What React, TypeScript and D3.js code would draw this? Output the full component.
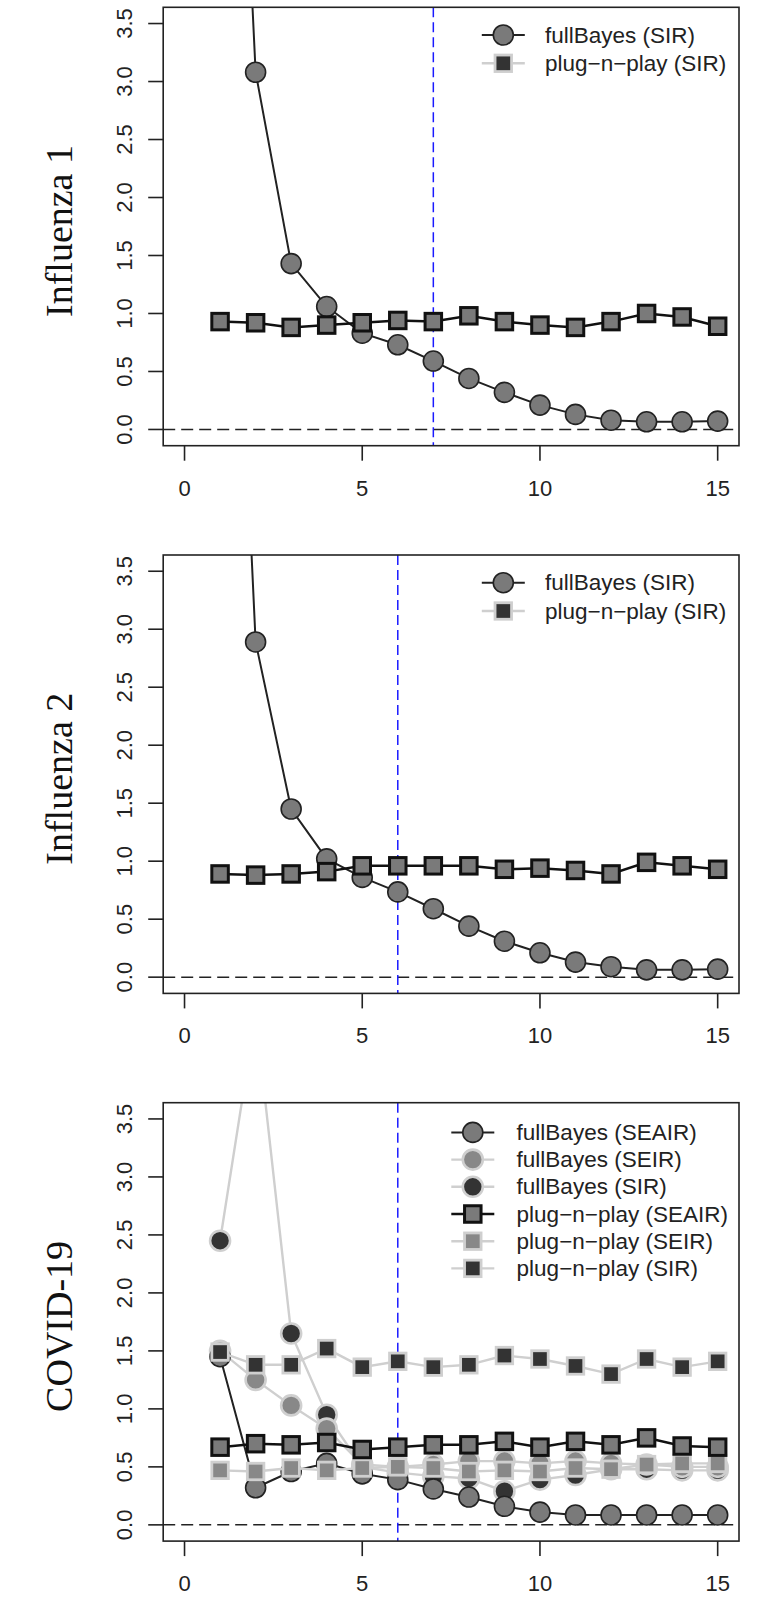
import React from "react";
import * as d3 from "d3";

// ---------- data ----------
const xs = [1, 2, 3, 4, 5, 6, 7, 8, 9, 10, 11, 12, 13, 14, 15];
const xTicks = [0, 5, 10, 15];
const yTicks = [0, 0.5, 1, 1.5, 2, 2.5, 3, 3.5];
const yTickLabels = ["0.0", "0.5", "1.0", "1.5", "2.0", "2.5", "3.0", "3.5"];

const panelTitles = ["Influenza 1", "Influenza 2", "COVID-19"];
const cutoffs = [7, 6, 6];

const flu1FullBayesSIR = [9.5, 3.08, 1.43, 1.06, 0.83, 0.73, 0.59, 0.44, 0.32, 0.21, 0.13, 0.08, 0.066, 0.066, 0.072];
const flu1PlugSIR = [0.93, 0.92, 0.88, 0.9, 0.92, 0.94, 0.93, 0.98, 0.93, 0.9, 0.88, 0.93, 1.0, 0.97, 0.89];

const flu2FullBayesSIR = [9.5, 2.89, 1.45, 1.02, 0.86, 0.735, 0.59, 0.44, 0.31, 0.21, 0.13, 0.09, 0.063, 0.063, 0.069];
const flu2PlugSIR = [0.89, 0.88, 0.89, 0.91, 0.96, 0.96, 0.96, 0.96, 0.93, 0.94, 0.92, 0.89, 0.99, 0.96, 0.93];

const covFullBayesSEAIR = [1.45, 0.32, 0.46, 0.53, 0.44, 0.39, 0.31, 0.24, 0.16, 0.11, 0.085, 0.085, 0.085, 0.085, 0.085];
const covFullBayesSEIR = [1.5, 1.25, 1.03, 0.83, 0.52, 0.5, 0.52, 0.55, 0.55, 0.53, 0.55, 0.53, 0.52, 0.5, 0.5];
const covFullBayesSIR = [2.45, 4.4, 1.65, 0.95, 0.5, 0.45, 0.42, 0.4, 0.29, 0.39, 0.43, 0.48, 0.48, 0.47, 0.47];
const covPlugSEAIR = [0.67, 0.7, 0.69, 0.71, 0.65, 0.67, 0.69, 0.69, 0.72, 0.67, 0.72, 0.69, 0.75, 0.68, 0.67];
const covPlugSEIR = [0.47, 0.46, 0.49, 0.47, 0.49, 0.5, 0.49, 0.46, 0.47, 0.46, 0.49, 0.48, 0.52, 0.53, 0.53];
const covPlugSIR = [1.49, 1.38, 1.38, 1.52, 1.36, 1.41, 1.36, 1.38, 1.46, 1.43, 1.37, 1.3, 1.43, 1.36, 1.41];

// ---------- styles ----------
type Style = {
  shape: "circle" | "square";
  fill: string;
  stroke: string;
  strokeWidth: number;
  line: string;
  lineWidth: number;
};
const GRAY = "#7a7a7a";
const MID = "#888888";
const DARK = "#333333";
const LIGHT = "#cfcfcf";

const sFullMain: Style = { shape: "circle", fill: GRAY, stroke: "#222", strokeWidth: 1.6, line: "#222", lineWidth: 2 };
const sFullSEIR: Style = { shape: "circle", fill: MID, stroke: LIGHT, strokeWidth: 2.6, line: LIGHT, lineWidth: 2.4 };
const sFullSIR: Style = { shape: "circle", fill: DARK, stroke: LIGHT, strokeWidth: 2.6, line: LIGHT, lineWidth: 2.4 };
const sPlugMain: Style = { shape: "square", fill: GRAY, stroke: "#111", strokeWidth: 3, line: "#111", lineWidth: 2.5 };
const sPlugSEIR: Style = { shape: "square", fill: MID, stroke: LIGHT, strokeWidth: 2.8, line: LIGHT, lineWidth: 2.4 };
const sPlugSIR: Style = { shape: "square", fill: DARK, stroke: LIGHT, strokeWidth: 2.8, line: LIGHT, lineWidth: 2.4 };

type Series = { values: number[]; style: Style };
type LegendItem = { label: string; style: Style };

const panels: { series: Series[]; legend: LegendItem[]; legendX: number; legendSym: number; legendGap: number; legendTop: number }[] = [
  {
    series: [
      { values: flu1FullBayesSIR, style: sFullMain },
      { values: flu1PlugSIR, style: sPlugMain },
    ],
    legend: [
      { label: "fullBayes (SIR)", style: sFullMain },
      { label: "plug\u2212n\u2212play (SIR)", style: sPlugSIR },
    ],
    legendX: 545,
    legendSym: 503.3,
    legendGap: 28.3,
    legendTop: 27.7,
  },
  {
    series: [
      { values: flu2FullBayesSIR, style: sFullMain },
      { values: flu2PlugSIR, style: sPlugMain },
    ],
    legend: [
      { label: "fullBayes (SIR)", style: sFullMain },
      { label: "plug\u2212n\u2212play (SIR)", style: sPlugSIR },
    ],
    legendX: 545,
    legendSym: 503.3,
    legendGap: 28.3,
    legendTop: 27.7,
  },
  {
    series: [
      { values: covFullBayesSIR, style: sFullSIR },
      { values: covFullBayesSEIR, style: sFullSEIR },
      { values: covFullBayesSEAIR, style: sFullMain },
      { values: covPlugSIR, style: sPlugSIR },
      { values: covPlugSEIR, style: sPlugSEIR },
      { values: covPlugSEAIR, style: sPlugMain },
    ],
    legend: [
      { label: "fullBayes (SEAIR)", style: sFullMain },
      { label: "fullBayes (SEIR)", style: sFullSEIR },
      { label: "fullBayes (SIR)", style: sFullSIR },
      { label: "plug\u2212n\u2212play (SEAIR)", style: sPlugMain },
      { label: "plug\u2212n\u2212play (SEIR)", style: sPlugSEIR },
      { label: "plug\u2212n\u2212play (SIR)", style: sPlugSIR },
    ],
    legendX: 516.6,
    legendSym: 472.8,
    legendGap: 27.2,
    legendTop: 29.7,
  },
];

// ---------- layout ----------
const W = 780;
const H = 1599;
const boxLeft = 163.2;
const boxRight = 739;
const boxH = 438.4;
const firstTop = 7.3;
const panelStep = 547.7;
const R = 10;
const SQ = 16.5;
const tickFont = "'Liberation Sans', Arial, sans-serif";

function Marker({ cx, cy, st }: { cx: number; cy: number; st: Style }) {
  if (st.shape === "circle") {
    return <circle cx={cx} cy={cy} r={R} fill={st.fill} stroke={st.stroke} strokeWidth={st.strokeWidth} />;
  }
  return (
    <rect x={cx - SQ / 2} y={cy - SQ / 2} width={SQ} height={SQ} fill={st.fill} stroke={st.stroke} strokeWidth={st.strokeWidth} />
  );
}

function Panel({ idx }: { idx: number }) {
  const p = panels[idx];
  const top = firstTop + idx * panelStep;
  const bottom = top + boxH;
  const x = d3.scaleLinear().domain([-0.6, 15.6]).range([boxLeft, boxRight]);
  const y = d3.scaleLinear().domain([-0.14, 3.64]).range([bottom, top]);
  const line = d3
    .line<number>()
    .x((_, i) => x(xs[i]))
    .y((d) => y(d));
  const clipId = `clip${idx}`;
  const midY = (top + bottom) / 2 + 4.5;
  return (
    <g>
      <defs>
        <clipPath id={clipId}>
          <rect x={boxLeft} y={top} width={boxRight - boxLeft} height={boxH} />
        </clipPath>
      </defs>
      {/* y-axis title */}
      <text
        transform={`translate(72,${midY}) rotate(-90)`}
        textAnchor="middle"
        fontFamily="'Liberation Serif', 'Times New Roman', serif"
        fontSize={38}
        fill="#111"
      >
        {panelTitles[idx]}
      </text>
      {/* reference lines */}
      <line x1={boxLeft} x2={boxRight} y1={y(0)} y2={y(0)} stroke="#222" strokeWidth={1.5} strokeDasharray="12 6" />
      <line x1={x(cutoffs[idx])} x2={x(cutoffs[idx])} y1={top} y2={bottom} stroke="#1a1aff" strokeWidth={1.5} strokeDasharray="10 5" />
      {/* series */}
      <g clipPath={`url(#${clipId})`}>
        {p.series.map((s, si) => (
          <g key={si}>
            <path d={line(s.values) || ""} fill="none" stroke={s.style.line} strokeWidth={s.style.lineWidth} />
            {s.values.map((v, i) => (
              <Marker key={i} cx={x(xs[i])} cy={y(v)} st={s.style} />
            ))}
          </g>
        ))}
      </g>
      {/* box */}
      <rect x={boxLeft} y={top} width={boxRight - boxLeft} height={boxH} fill="none" stroke="#222" strokeWidth={1.6} />
      {/* y axis ticks */}
      {yTicks.map((t, i) => (
        <g key={t}>
          <line x1={boxLeft - 15} x2={boxLeft} y1={y(t)} y2={y(t)} stroke="#222" strokeWidth={1.6} />
          <text
            transform={`translate(131.5,${y(t)}) rotate(-90)`}
            textAnchor="middle"
            fontFamily={tickFont}
            fontSize={22}
            fill="#222"
          >
            {yTickLabels[i]}
          </text>
        </g>
      ))}
      {/* x axis ticks */}
      {xTicks.map((t) => (
        <g key={t}>
          <line x1={x(t)} x2={x(t)} y1={bottom} y2={bottom + 15} stroke="#222" strokeWidth={1.6} />
          <text x={x(t)} y={bottom + 50} textAnchor="middle" fontFamily={tickFont} fontSize={22} fill="#222">
            {t}
          </text>
        </g>
      ))}
      {/* legend */}
      {p.legend.map((it, i) => {
        const ly = top + p.legendTop + i * p.legendGap;
        return (
          <g key={i}>
            <line x1={p.legendSym - 21.5} x2={p.legendSym + 21.5} y1={ly} y2={ly} stroke={it.style.line} strokeWidth={it.style.lineWidth} />
            <Marker cx={p.legendSym} cy={ly} st={it.style} />
            <text x={p.legendX} y={ly} dominantBaseline="central" fontFamily={tickFont} fontSize={22.5} fill="#222">
              {it.label}
            </text>
          </g>
        );
      })}
    </g>
  );
}

export default function App() {
  return (
    <div style={{ position: "absolute", left: 0, top: 0 }}>
      <svg width={W} height={H} viewBox={`0 0 ${W} ${H}`} style={{ display: "block", background: "#fff" }}>
        <rect width={W} height={H} fill="#fff" />
        {panels.map((_, i) => (
          <Panel key={i} idx={i} />
        ))}
      </svg>
    </div>
  );
}
